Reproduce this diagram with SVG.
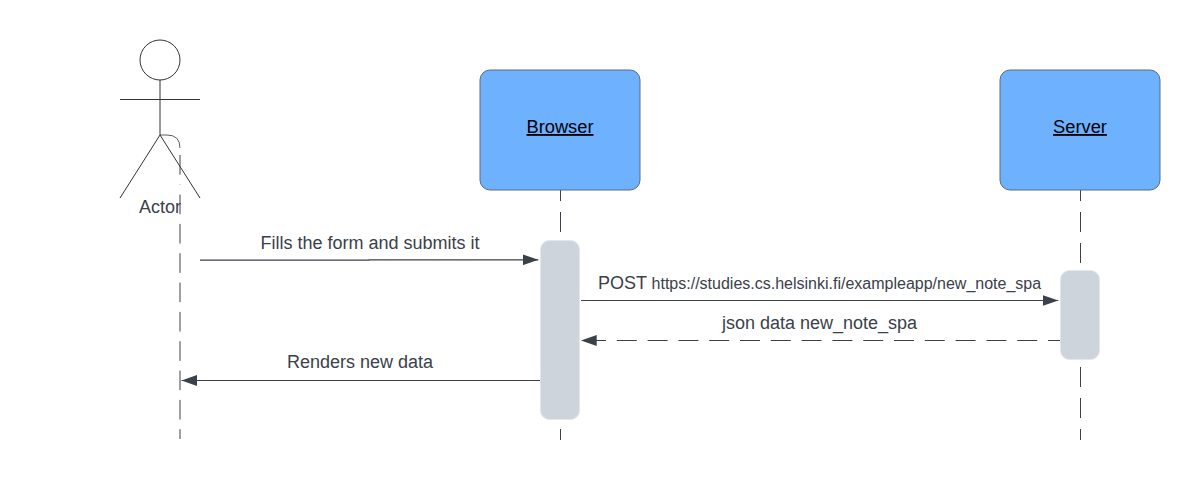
<svg xmlns="http://www.w3.org/2000/svg" width="1200" height="480" viewBox="0 0 1200 480">
<style>
.t{font-family:"Liberation Sans",Arial,sans-serif;fill:#3a414a;text-anchor:middle;font-size:18px}
.k{font-family:"Liberation Sans",Arial,sans-serif;fill:#000;text-anchor:middle;font-size:18.300px;text-decoration:underline}
.fig{fill:none;stroke:#333;stroke-width:1}
.life{fill:none;stroke:#3a414a;stroke-width:1;stroke-dasharray:20 11;stroke-dashoffset:9}
.alife{fill:none;stroke:#3a414a;stroke-width:1;stroke-dasharray:19.600 9.730}
.msg{fill:none;stroke:#3a414a;stroke-width:1.200}
.box{fill:#6db1ff;stroke:#5e6b7d;stroke-width:1}
.act{fill:#ced4db;stroke:#e3e6ea;stroke-width:1}
</style>
<defs>
<marker id="a" markerUnits="userSpaceOnUse" markerWidth="16" markerHeight="11" refX="15.700" refY="5.500" orient="auto"><path d="M0 0L15.700 5.500L0 11Z" fill="#3a414a"/></marker>
</defs>
<rect width="1200" height="480" fill="#fff"/>
<g id="lifelines">
<path class="fig" stroke-opacity="0.800" d="M160 135H167Q180 135 180 148"/>
<path class="alife" d="M180 155V184.700"/>
<path class="alife" d="M180 194.600V439"/>
<path class="life" d="M560.500 190V440"/>
<path class="life" d="M1080.500 190V440"/>
</g>
<g id="actor">
<circle class="fig" cx="160" cy="60" r="20"/>
<path class="fig" d="M160 80V135M120 99.500H200M160 135L120 198M160 135L200 198"/>
<text class="t" x="160" y="213">Actor</text>
</g>
<g id="browser">
<rect class="box" x="480" y="70" width="160" height="120" rx="10"/>
<text class="k" x="560" y="133">Browser</text>
</g>
<g id="server">
<rect class="box" x="1000" y="70" width="160" height="120" rx="10"/>
<text class="k" x="1080" y="133">Server</text>
</g>
<g id="browser-activation"><rect class="act" x="540.500" y="240.500" width="39" height="179" rx="9"/></g>
<g id="server-activation"><rect class="act" x="1060.500" y="270.500" width="39" height="89" rx="9"/></g>
<g id="connectors">
<path class="msg" marker-end="url(#a)" d="M200 260.200H369V259.800H538.300"/>
<path class="msg" marker-end="url(#a)" d="M581 300.500H1058.300"/>
<path class="msg" marker-end="url(#a)" stroke-dasharray="20 10.800" stroke-dashoffset="8" d="M1060 340.500H581"/>
<path class="msg" marker-end="url(#a)" d="M540 380.500H181.500"/>
</g>
<g id="labels">
<text class="t" x="370" y="248.500">Fills the form and submits it</text>
<text class="t" x="819.500" y="288.500"><tspan>POST </tspan><tspan font-size="16">https://studies.cs.helsinki.fi/exampleapp/new_note_spa</tspan></text>
<text class="t" x="819.500" y="328.500">json data new_note_spa</text>
<text class="t" x="360" y="368">Renders new data</text>
</g>
</svg>
